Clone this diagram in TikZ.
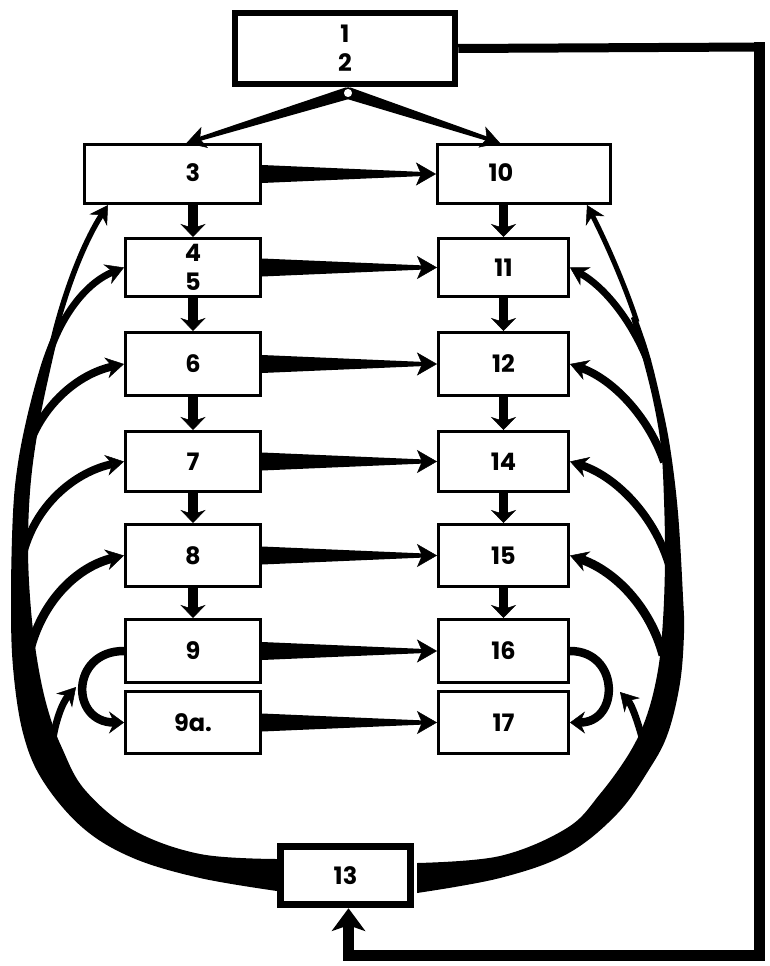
\documentclass[tikz,border=0pt]{standalone}
\usepackage{fontspec}
\setmainfont{Poppins}
\usetikzlibrary{arrows.meta,calc}
\newcommand{\lbl}{\fontsize{24}{29}\selectfont\bfseries}
\newcommand{\taperto}[6]{%
  \coordinate (tpS) at (#1);
  \coordinate (tpT) at (#2);
  \coordinate (tpE) at ($(tpT)!0.6*#5!(tpS)$);
  \fill ($(tpS)!#3!90:(tpE)$) -- ($(tpE)!#4!-90:(tpS)$) -- ($(tpE)!#4!90:(tpS)$) -- ($(tpS)!#3!-90:(tpE)$) -- cycle;
  \draw[line width=1pt, -{Stealth[length=#5,width=#6,inset=5pt,line width=0.5pt]}] ($(tpT)!#5+3pt!(tpS)$) -- (tpT);
}
\begin{document}
\begin{tikzpicture}[x=1pt,y=-1pt,
  box/.style={draw, line width=3pt, inner sep=0pt, align=center, font=\lbl},
  lab/.style={font=\lbl, inner sep=0pt},
  arrtip/.style={-{Stealth[length=18pt,width=21pt,inset=6pt,line width=0.5pt]}},
  branch/.style={arrtip, line width=#1},
  branch/.default=6pt,
  downarr/.style={line width=9.5pt, -{Stealth[length=13pt,width=25pt,inset=4pt,line width=0.5pt]}},
  looparr/.style={line width=8.5pt, -{Stealth[length=15pt,width=22pt,inset=5pt,line width=0.5pt]}}
]
\useasboundingbox (0,0) rectangle (770,966);

% ---------- boxes ----------
\node[box, line width=6.5pt, minimum width=220pt, minimum height=71pt] (b1) at (345,48.5) {1\\2};
\node[box, minimum width=176pt, minimum height=59pt] (b3) at (172.5,174) {};
\node[lab] (t3) at (193,173) {3};
\node[box, minimum width=173pt, minimum height=59pt] (b10) at (524,174) {};
\node[lab] (t10) at (501,173) {10};

\node[box, minimum width=135pt, minimum height=58pt] (b45) at (193,267.5) {4\\5};
\node[box, minimum width=135pt, minimum height=63pt] (b6)  at (193,364) {6};
\node[box, minimum width=135pt, minimum height=60pt] (b7)  at (193,461.5) {7};
\node[box, minimum width=135pt, minimum height=62pt] (b8)  at (193,555.5) {8};
\node[box, minimum width=135pt, minimum height=63pt] (b9)  at (193,651) {9};
\node[box, minimum width=135pt, minimum height=62pt] (b9a) at (193,722.5) {9a.};

\node[box, minimum width=130pt, minimum height=58pt] (b11) at (503.5,267.5) {11};
\node[box, minimum width=130pt, minimum height=63pt] (b12) at (503.5,364) {12};
\node[box, minimum width=130pt, minimum height=60pt] (b14) at (503.5,461.5) {14};
\node[box, minimum width=130pt, minimum height=62pt] (b15) at (503.5,555.5) {15};
\node[box, minimum width=130pt, minimum height=63pt] (b16) at (503.5,651) {16};
\node[box, minimum width=130pt, minimum height=62pt] (b17) at (503.5,722.5) {17};

\node[box, line width=7.5pt, minimum width=130pt, minimum height=58pt] (b13) at (345.5,875.5) {13};

% ---------- feedback line ----------
\coordinate (fbc1) at (759,47);
\coordinate (fbc) at (759,955);
\coordinate (fbend) at ([xshift=3pt]b13.south);
\coordinate (fbc2) at (fbend |- fbc);
\coordinate (fbstem) at ($(fbend)+(0,15)$);
\draw[line width=9pt] (b1.east) -- (fbc1);
\draw[line width=11pt, line join=miter] ($(fbc1)+(0,-4.5)$) -- (fbc) -- (fbc2) -- (fbstem);
\fill (fbend) -- ++(-17,23) -- ++(17,-6) -- ++(17,6) -- cycle;

% ---------- down arrows ----------
\draw[downarr] (b45.north |- b3.south) -- (b45.north);
\draw[downarr] (b6.north |- b45.south) -- (b6.north);
\draw[downarr] (b7.north |- b6.south) -- (b7.north);
\draw[downarr] (b8.north |- b7.south) -- (b8.north);
\draw[downarr] (b9.north |- b8.south) -- (b9.north);
\draw[downarr] (b11.north |- b10.south) -- (b11.north);
\draw[downarr] (b12.north |- b11.south) -- (b12.north);
\draw[downarr] (b14.north |- b12.south) -- (b14.north);
\draw[downarr] (b15.north |- b14.south) -- (b15.north);
\draw[downarr] (b16.north |- b15.south) -- (b16.north);

% ---------- horizontal tapered arrows ----------
\taperto{b3.east}{b10.west}{9pt}{2pt}{20pt}{23pt}
\taperto{b45.east}{b11.west}{9pt}{2pt}{20pt}{23pt}
\taperto{b6.east}{b12.west}{9pt}{2pt}{20pt}{23pt}
\taperto{b7.east}{b14.west}{9pt}{2pt}{20pt}{23pt}
\taperto{b8.east}{b15.west}{9pt}{2pt}{20pt}{23pt}
\taperto{b9.east}{b16.west}{9pt}{2pt}{20pt}{23pt}
\taperto{b9a.east}{b17.west}{9pt}{2pt}{20pt}{23pt}

% ---------- top fork ----------
\coordinate (forkc) at (348,93);
\coordinate (f3) at ([xshift=14pt]b3.north);
\coordinate (f10) at ([xshift=-24pt]b10.north);
\taperto{forkc}{f3}{6pt}{2pt}{19pt}{22pt}
\taperto{forkc}{f10}{6pt}{2pt}{19pt}{22pt}
\node[circle, draw, fill=white, line width=1.5pt, minimum size=10pt, inner sep=0pt] (fork) at (forkc) {};

% ---------- loops ----------
\draw[looparr] (b9.west) .. controls (70,651) and (70,722.5) .. (b9a.west);
\draw[looparr] (b16.east) .. controls (620,651) and (620,722.5) .. (b17.east);

% ---------- left fan ----------
\fill plot[smooth, tension=0.6] coordinates {(277,891) (200,878) (133,858) (83,828) (43,781) (23,733) (13,667) (11,597) (13,513) (18,463) (28,413) (41,365) (51,338)}
  -- plot[smooth, tension=0.6] coordinates {(57,340) (41,413) (31,480) (28,547) (31,610) (38,665) (48,710) (62,748) (85,790) (133,830) (200,854) (277,859)} -- cycle;
\coordinate (l3) at (52,345);
\coordinate (l45) at (49,354);
\coordinate (l6) at (28,448);
\coordinate (l7) at (22,558);
\coordinate (l8) at (27,665);
\coordinate (l9) at (52,745);
\coordinate (t3b) at ([xshift=25pt]b3.south west);
\coordinate (c9) at (76,687);
\draw[branch=5.5pt] (l3) .. controls (62,300) and (82,245) .. (t3b);
\draw[branch=7pt] (l45) .. controls (63,312) and (88,282) .. (b45.west);
\draw[branch=8pt] (l6) .. controls (42,405) and (78,374) .. (b6.west);
\draw[branch=8pt] (l7) .. controls (34,505) and (75,472) .. (b7.west);
\draw[branch=9pt] (l8) .. controls (35,610) and (72,568) .. (b8.west);
\draw[branch=7pt] (l9) .. controls (55,722) and (62,703) .. (c9);

% ---------- right fan ----------
\fill plot[smooth, tension=0.6] coordinates {(417,893) (500,878) (567,854) (617,814) (650,768) (668,733) (680,683) (684,633) (683,597) (678,513) (670,447) (660,397) (649,353) (636,315)}
  -- plot[smooth, tension=0.6] coordinates {(631,318) (641,352) (653,400) (661,447) (664,500) (665,560) (663,620) (658,670) (647,715) (630,752) (600,794) (567,828) (500,856) (417,863)} -- cycle;
\coordinate (r10) at (637,322);
\coordinate (r11) at (648,362);
\coordinate (r12) at (664,462);
\coordinate (r14) at (670,568);
\coordinate (r15) at (663,655);
\coordinate (r16) at (645,748);
\coordinate (t10b) at ([xshift=-25pt]b10.south east);
\coordinate (c16) at (620,692);
\draw[branch=5pt] (r10) .. controls (625,285) and (605,240) .. (t10b);
\draw[branch=7pt] (r11) .. controls (632,322) and (606,288) .. (b11.east);
\draw[branch=8pt] (r12) .. controls (650,420) and (615,380) .. (b12.east);
\draw[branch=8pt] (r14) .. controls (655,515) and (615,476) .. (b14.east);
\draw[branch=9pt] (r15) .. controls (650,607) and (615,571) .. (b15.east);
\draw[branch=7pt] (r16) .. controls (638,722) and (632,705) .. (c16);
\end{tikzpicture}
\end{document}
